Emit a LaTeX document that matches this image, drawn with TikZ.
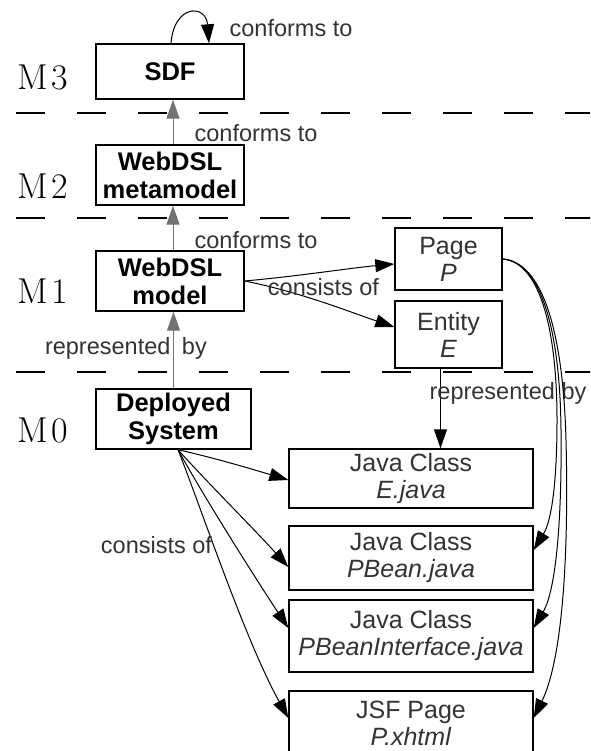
\documentclass[tikz,border=0pt]{standalone}
\usepackage{fontspec}
\setsansfont{Liberation Sans}
\usetikzlibrary{arrows.meta}
\begin{document}
\begin{tikzpicture}[x=1pt,y=-1pt,
  box/.style={draw=black, line width=1.4pt, rectangle, inner sep=0pt, align=center,
    font=\sffamily\fontsize{25}{27}\selectfont, text=black!80},
  bbox/.style={box, font=\sffamily\bfseries\fontsize{25.5}{28}\selectfont, text=black},
  lvl/.style={font=\fontsize{36}{36}\selectfont, inner sep=0pt},
  lbl/.style={font=\sffamily\fontsize{23.5}{24}\selectfont, text=black!80, inner sep=0pt},
  tip/.style={-{Triangle[length=19pt,width=13pt]}},
  up/.style={tip, draw=black!55, line width=1pt},
  cn/.style={tip, draw=black, line width=1pt},
  sep/.style={line width=2.8pt, dash pattern=on 29pt off 32pt},
  thinsep/.style={sep, line width=1.8pt},
]
\useasboundingbox (0,0) rectangle (590,751);
\clip (0,0) rectangle (590,751);

% level separators
\draw[sep] (16,113) -- (600,113);
\draw[sep] (16,218) -- (600,218);
\draw[thinsep] (16,372) -- (600,372);

% level names
\node[lvl] (m3) at (43,77) {M\kern3pt3};
\node[lvl] (m2) at (43,186) {M\kern3pt2};
\node[lvl] (m1) at (43,291) {M\kern3pt1};
\node[lvl] (m0) at (43,430) {M\kern3pt0};

% model stack
\node[bbox, minimum width=148pt, minimum height=55pt] (sdf) at (170,71.5) {SDF};
\node[bbox, minimum width=148pt, minimum height=60pt] (meta) at (170,175) {WebDSL\\metamodel};
\node[bbox, minimum width=148pt, minimum height=60pt] (model) at (170,281) {WebDSL\\model};
\node[bbox, minimum width=155pt, minimum height=60pt] (sys) at (173.5,419) {Deployed\\System};

% model elements
\node[box, minimum width=107pt, minimum height=62pt] (page) at (448.5,259) {Page\\\textit{P}};
\node[box, minimum width=107pt, minimum height=67pt] (entity) at (448.5,334.5) {Entity\\\textit{E}};

% generated artefacts
\node[box, minimum width=244pt, minimum height=59pt] (ejava) at (411,478.5) {Java Class\\\textit{E.java}};
\node[box, minimum width=244pt, minimum height=64pt] (pbean) at (411,558) {Java Class\\\textit{PBean.java}};
\node[box, minimum width=244pt, minimum height=72pt] (pbi) at (411,636) {Java Class\\\textit{PBeanInterface.java}};
\node[box, minimum width=244pt, minimum height=64pt] (jsf) at (411,723) {JSF Page\\\textit{P.xhtml}};

% conformance
\draw[cn] ([xshift=1pt]sdf.north) .. controls (174,4) and (206,4) .. ([xshift=39pt]sdf.north);
\draw[up] ([xshift=3pt]meta.north) -- ([xshift=3pt]sdf.south);
\draw[up] ([xshift=3pt]model.north) -- ([xshift=3pt]meta.south);
\node[lbl] (c3) at (291,28) {conforms to};
\node[lbl] (c2) at (256,133) {conforms to};
\node[lbl] (c1) at (256,240) {conforms to};

% model composition
\draw[cn] (model.east) .. controls (300,276) and (350,268) .. ([yshift=-5pt]page.west);
\draw[cn] (model.east) .. controls (300,292) and (350,312) .. ([yshift=7.5pt]entity.west);
\node[lbl] (cm) at (323.5,287) {consists of};

% representation
\draw[up] (sys.north) -- (sys.north |- model.south);
\node[lbl, anchor=east] (r0) at (207,348) {represented\hspace{5pt} by};
\draw[cn] ([xshift=-8pt]entity.south) -- ([xshift=-8pt]entity.south |- ejava.north);
\node[lbl] (r1) at (508,393) {represented by};

% system composition
\coordinate (fan) at ([xshift=4.5pt]sys.south);
\draw[cn] (fan) .. controls (215,458) and (255,470) .. ([yshift=-1.5pt]ejava.west);
\draw[cn] (fan) .. controls (205,480) and (255,530) .. ([yshift=-9pt]pbean.west);
\draw[cn] (fan) .. controls (200,490) and (250,570) .. ([yshift=8pt]pbi.west);
\draw[cn] (fan) .. controls (200,505) and (245,640) .. ([yshift=5pt]jsf.west);
\node[lbl] (cs) at (156.5,545) {consists of};

% page realisation
\draw[cn] (page.east) .. controls (540,262) and (557,330) .. (557,420)
  .. controls (557,480) and (552,520) .. ([yshift=8pt]pbean.east);
\draw[cn] (page.east) .. controls (541,262) and (560,330) .. (561,430)
  .. controls (562,520) and (556,590) .. ([yshift=8pt]pbi.east);
\draw[cn] (page.east) .. controls (542,262) and (563,330) .. (566,440)
  .. controls (569,560) and (562,660) .. ([yshift=5pt]jsf.east);
\end{tikzpicture}
\end{document}
